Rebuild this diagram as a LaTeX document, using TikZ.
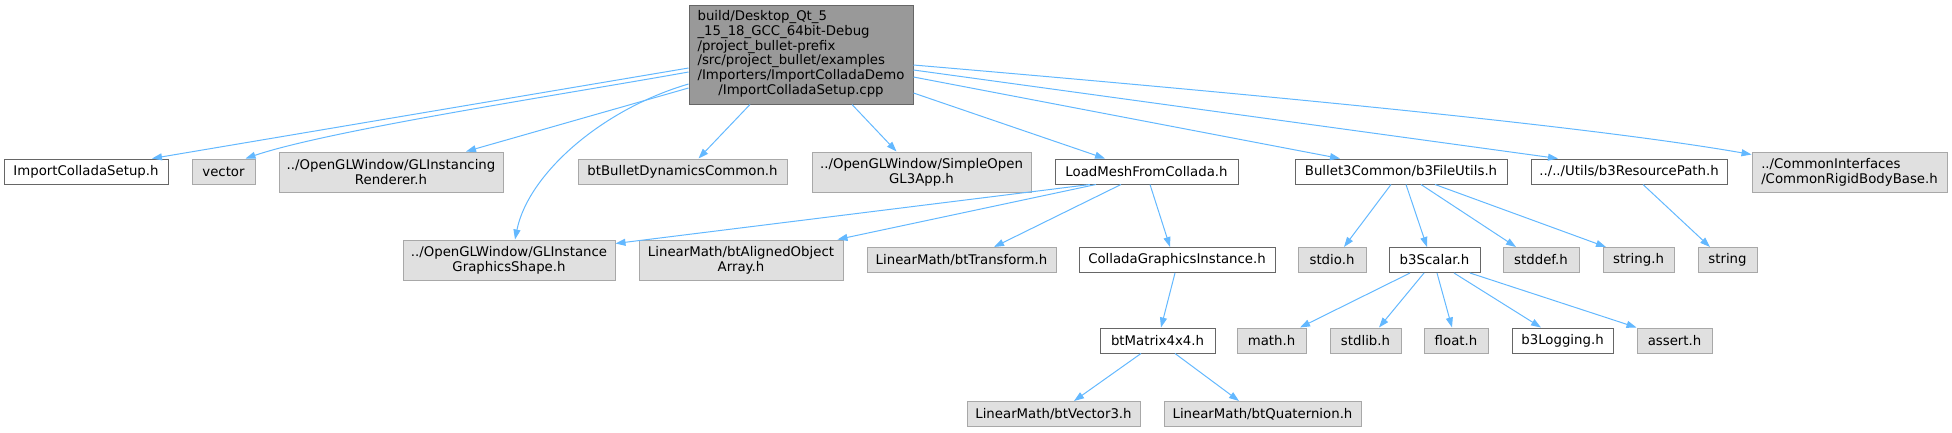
\documentclass[tikz,border=0pt]{standalone}
\usepackage{fontspec}
\setmainfont{DejaVu Sans}
\usetikzlibrary{arrows.meta}
\definecolor{edgeblue}{HTML}{63B8FF}
\definecolor{rootgray}{HTML}{999999}
\definecolor{boxgray}{HTML}{E0E0E0}
\definecolor{darkline}{HTML}{666666}
\definecolor{lightline}{HTML}{A8A8A8}
\tikzset{
  file/.style={draw=darkline, fill=white, line width=1pt, inner sep=0pt,
    minimum height=25pt, font=\fontsize{13.3}{15}\selectfont},
  sysfile/.style={file, draw=lightline, fill=boxgray},
  mainfile/.style={file, fill=rootgray},
  dep/.style={edgeblue, line width=1pt, -{Triangle[length=10pt,width=7pt]}},
}
\begin{document}
\begin{tikzpicture}[x=1pt,y=-1pt]
    \useasboundingbox (0,0) rectangle (1952,432);
    % including file
    \node[mainfile, minimum width=224pt, minimum height=99pt, font=\fontsize{13.3}{14.8}\selectfont] (root) at (801,54.5)
        {\begin{tabular}{@{}l@{}}build/Desktop\_Qt\_5\\\_15\_18\_GCC\_64bit-Debug\\/project\_bullet-prefix\\/src/project\_bullet/examples\\/Importers/ImportColladaDemo\\\multicolumn{1}{@{}c@{}}{/ImportColladaSetup.cpp}\end{tabular}};
    % first row
    \node[file, minimum width=164pt] (imp) at (86,171.5) {ImportColladaSetup.h};
    \node[sysfile, minimum width=63pt] (vec) at (223.5,171.5) {vector};
    \node[sysfile, minimum width=224pt, minimum height=40pt, align=center] (glr) at (391,172) {../OpenGLWindow/GLInstancing\\Renderer.h};
    \node[sysfile, minimum width=209pt] (btb) at (682.5,171.5) {btBulletDynamicsCommon.h};
    \node[sysfile, minimum width=219pt, minimum height=40pt, align=center] (sog) at (921.5,172) {../OpenGLWindow/SimpleOpen\\GL3App.h};
    \node[file, minimum width=183pt] (lmc) at (1146.5,171.5) {LoadMeshFromCollada.h};
    \node[file, minimum width=212pt] (fut) at (1401,171.5) {Bullet3Common/b3FileUtils.h};
    \node[file, minimum width=196pt] (rpa) at (1629,171.5) {../../Utils/b3ResourcePath.h};
    \node[sysfile, minimum width=195pt, minimum height=40pt, align=left] (crb) at (1849.5,172) {../CommonInterfaces\\/CommonRigidBodyBase.h};
    % second row
    \node[sysfile, minimum width=212pt, minimum height=40pt, align=center] (gis) at (509,260) {../OpenGLWindow/GLInstance\\GraphicsShape.h};
    \node[sysfile, minimum width=204pt, minimum height=40pt, align=center] (aoa) at (741,260) {LinearMath/btAlignedObject\\Array.h};
    \node[sysfile, minimum width=189pt] (btt) at (961.5,260) {LinearMath/btTransform.h};
    \node[file, minimum width=196pt] (cgi) at (1177,260) {ColladaGraphicsInstance.h};
    \node[sysfile, minimum width=68pt] (sio) at (1332,260) {stdio.h};
    \node[file, minimum width=91pt] (bsc) at (1434.5,260) {b3Scalar.h};
    \node[sysfile, minimum width=76pt] (sdf) at (1541,260) {stddef.h};
    \node[sysfile, minimum width=71pt] (sth) at (1638.5,260) {string.h};
    \node[sysfile, minimum width=59pt] (str) at (1727.5,260) {string};
    % third row
    \node[file, minimum width=115pt] (m44) at (1157.5,340.5) {btMatrix4x4.h};
    \node[sysfile, minimum width=69pt] (mth) at (1271.5,340.5) {math.h};
    \node[sysfile, minimum width=71pt] (slb) at (1365.5,340.5) {stdlib.h};
    \node[sysfile, minimum width=64pt] (flt) at (1456,340.5) {float.h};
    \node[file, minimum width=101pt] (blg) at (1562.5,340.5) {b3Logging.h};
    \node[sysfile, minimum width=75pt] (ast) at (1674.5,340.5) {assert.h};
    % fourth row
    \node[sysfile, minimum width=173pt] (vc3) at (1053.5,414) {LinearMath/btVector3.h};
    \node[sysfile, minimum width=197pt] (qtn) at (1262.5,414) {LinearMath/btQuaternion.h};
    % includes of the main file
    \draw[dep] ([yshift=-13.5pt]root.west) -- ([xshift=66pt]imp.north);
    \draw[dep] ([yshift=-17.5pt]root.west) .. controls (560,95) and (330,130) .. ([xshift=-10pt]vec.north east);
    \draw[dep] ([yshift=-33.5pt]root.west) -- ([xshift=75pt]glr.north);
    \draw[dep] ([yshift=-29.5pt]root.west) .. controls (600,110) and (528,175) .. ([xshift=6pt]gis.north);
    \draw[dep] ([xshift=-51pt]root.south) -- ([xshift=16pt]btb.north);
    \draw[dep] ([xshift=51pt]root.south) -- ([xshift=-25pt]sog.north);
    \draw[dep] ([yshift=-38.5pt]root.east) -- ([xshift=-41.5pt]lmc.north);
    \draw[dep] ([yshift=-22.5pt]root.east) -- ([xshift=-61pt]fut.north);
    \draw[dep] ([yshift=-15.5pt]root.east) -- ([xshift=-71pt]rpa.north);
    \draw[dep] ([yshift=-10.5pt]root.east) .. controls (1300,98) and (1600,128) .. ([yshift=-3pt]crb.north west);
    % LoadMeshFromCollada.h
    \draw[dep] ([xshift=-56.5pt]lmc.south) -- ([yshift=-4pt]gis.north east);
    \draw[dep] ([xshift=-50.5pt]lmc.south) -- ([xshift=-6pt]aoa.north east);
    \draw[dep] ([xshift=-25.5pt]lmc.south) -- ([xshift=32.5pt]btt.north);
    \draw[dep] ([xshift=3.5pt]lmc.south) -- ([xshift=-7pt]cgi.north);
    \draw[dep] ([xshift=-2pt]cgi.south) -- ([xshift=3.5pt]m44.north);
    \draw[dep] ([xshift=-16.5pt]m44.south) -- ([xshift=20.5pt]vc3.north);
    \draw[dep] ([xshift=17.5pt]m44.south) -- ([xshift=-23.5pt]qtn.north);
    % b3FileUtils.h and b3ResourcePath.h
    \draw[dep] ([xshift=-10pt]fut.south) -- ([xshift=12pt]sio.north);
    \draw[dep] ([xshift=5pt]fut.south) -- ([xshift=-7.5pt]bsc.north);
    \draw[dep] ([xshift=20pt]fut.south) -- ([xshift=-25pt]sdf.north);
    \draw[dep] ([xshift=34pt]fut.south) -- ([xshift=-32.5pt]sth.north);
    \draw[dep] ([xshift=14pt]rpa.south) -- ([xshift=-17.5pt]str.north);
    % b3Scalar.h
    \draw[dep] ([xshift=-24.5pt]bsc.south) -- ([xshift=28.5pt]mth.north);
    \draw[dep] ([xshift=-10.5pt]bsc.south) -- ([xshift=13.5pt]slb.north);
    \draw[dep] ([xshift=2.5pt]bsc.south) -- ([xshift=-4pt]flt.north);
    \draw[dep] ([xshift=19.5pt]bsc.south) -- ([xshift=-21.5pt]blg.north);
    \draw[dep] ([xshift=35.5pt]bsc.south) -- ([xshift=-38pt]ast.north);
\end{tikzpicture}
\end{document}
